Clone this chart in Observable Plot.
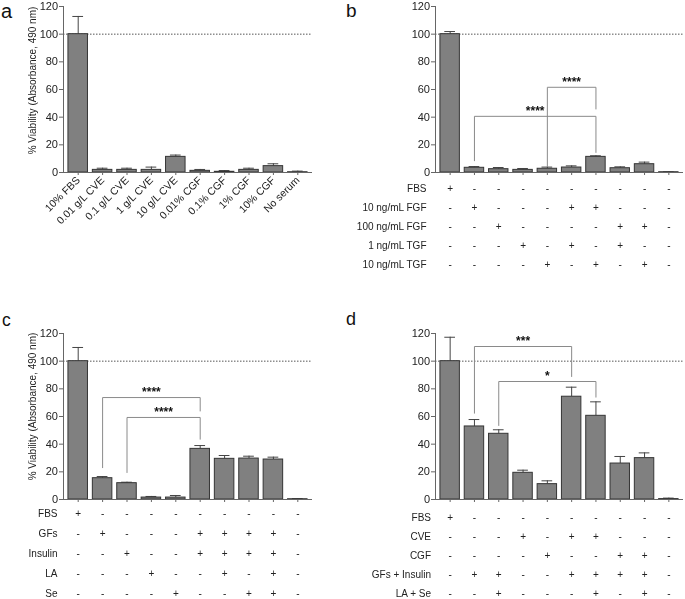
<!DOCTYPE html>
<html>
<head>
<meta charset="utf-8">
<script src="https://cdn.jsdelivr.net/npm/d3@7"></script>
<script src="https://cdn.jsdelivr.net/npm/@observablehq/plot@0.6"></script>
<style>
  body { margin: 0; background: #fff; }
  #root { position: relative; width: 685px; height: 599px; font-family: "Liberation Sans", Arial, sans-serif; color: #222; overflow: hidden; }
  #root svg { position: absolute; will-change: transform; }
  .letter { position: absolute; line-height: 1; font-family: "Liberation Sans", Arial, sans-serif; color: #111; }
</style>
</head>
<body>
<div id="root">
  <div class="letter" style="left:1px;top:1px;font-size:20px">a</div>
  <div class="letter" style="left:346px;top:1px;font-size:19px">b</div>
  <div class="letter" style="left:2px;top:312px;font-size:17.5px">c</div>
  <div class="letter" style="left:346px;top:310px;font-size:18px">d</div>
</div>
<script>
// ---------- data ----------
const yTicks = [0, 20, 40, 60, 80, 100, 120];
const yLabel = "% Viability (Absorbance, 490 nm)";
const refLine = [100];

const aLabels = ["10% FBS", "0.01 g/L CVE", "0.1 g/L CVE", "1 g/L CVE", "10 g/L CVE",
                 "0.01% CGF", "0.1% CGF", "1% CGF", "10% CGF", "No serum"];
const aValues = [100, 1.9, 1.9, 1.9, 11.3, 1.2, 0.5, 1.9, 4.6, 0.2];
const aErrors = [12.8, 1.2, 1.2, 2.0, 1.3, 1.0, 0.9, 1.2, 1.7, 0.8];

const bValues = [100, 3.4, 2.4, 1.9, 2.7, 3.6, 11.3, 3.1, 6.0, 0.2];
const bErrors = [1.9, 0.9, 1.2, 1.0, 1.2, 1.2, 0.8, 1.0, 1.5, 0.3];
const bRows = ["FBS", "10 ng/mL FGF", "100 ng/mL FGF", "1 ng/mL TGF", "10 ng/mL TGF"];
const bSigns = ["+---------", "-+---++---", "--+----++-", "---+-+-+--", "----+-+-+-"];
const bBrackets = [
  {from: 4, to: 6, h: 61.6, left: 4.5, right: 45.9, label: "****"},
  {from: 1, to: 6, h: 40.6, left: 8.5, right: 14.5, label: "****"}
];

const cValues = [100, 15.4, 11.8, 1.4, 1.4, 36.6, 29.4, 29.6, 28.9, 0.2];
const cErrors = [9.9, 1.2, 0.7, 0.8, 1.5, 2.4, 2.4, 1.7, 1.7, 0.5];
const cRows = ["FBS", "GFs", "Insulin", "LA", "Se"];
const cSigns = ["+---------", "-+---++++-", "--+--++++-", "---+--+-+-", "----+--++-"];
const cBrackets = [
  {from: 1, to: 5, h: 73.7, left: 23, right: 64, label: "****"},
  {from: 2, to: 5, h: 59.3, left: 19.5, right: 43.6, label: "****"}
];

const dValues = [100, 52.8, 47.5, 19.3, 11.1, 74.3, 60.5, 26.0, 29.9, 0.3];
const dErrors = [17.3, 5.0, 2.9, 1.9, 2.4, 6.9, 10.1, 5.1, 3.8, 0.7];
const dRows = ["FBS", "CVE", "CGF", "GFs + Insulin", "LA + Se"];
const dSigns = ["+---------", "---+-++---", "----+--++-", "-++--++++-", "--+---+-+-"];
const dBrackets = [
  {from: 1, to: 5, h: 110.6, left: 62.4, right: 88.9, label: "***"},
  {from: 2, to: 6, h: 85.3, left: 53.5, right: 74, label: "*"}
];

// ---------- drawing ----------
const root = document.getElementById("root");
const FONT = "'Liberation Sans', Arial, sans-serif";
const BAR_FILL = "#808080", BAR_STROKE = "#353535", AXIS = "#666", ERR = "#444", BRACKET = "#8a8a8a";
const idx = d3.range(10);
const xDomain = [-0.5, 9.5];

function place(svg, left, top) {
  svg.style.left = left + "px";
  svg.style.top = top + "px";
  root.appendChild(svg);
}

function barPanel(o) {
  const rows = o.values.map((v, i) => ({i, v, e: v + o.errors[i]}));
  const segs = [];
  (o.brackets || []).forEach((b, k) => {
    segs.push({k, x: b.from, y: b.left}, {k, x: b.from, y: b.h}, {k, x: b.to, y: b.h}, {k, x: b.to, y: b.right});
  });
  const marks = [
    Plot.ruleY(refLine, {stroke: "#555", strokeDasharray: "1.5,1.5", strokeWidth: 1}),
    Plot.ruleX(rows, {x: "i", y1: "v", y2: "e", stroke: ERR}),
    Plot.ruleY(rows, {y: "e", x1: d => d.i - 0.22, x2: d => d.i + 0.22, stroke: ERR}),
    Plot.rectY(rows, {x1: d => d.i - 0.4, x2: d => d.i + 0.4, y1: 0, y2: "v", fill: BAR_FILL, stroke: BAR_STROKE, strokeWidth: 1}),
    Plot.line(segs, {x: "x", y: "y", z: "k", stroke: BRACKET, strokeWidth: 1}),
    Plot.text(o.brackets || [], {x: d => (d.from + d.to) / 2, y: "h", text: "label", dy: -5, fontSize: 12, fontWeight: "bold", fill: "#111"}),
    Plot.ruleY([0], {stroke: AXIS}),
    Plot.frame({anchor: "left", stroke: AXIS}),
    Plot.axisY({ticks: yTicks, tickSize: 4, tickPadding: 1.5, fontSize: 11, stroke: AXIS, fill: "#222", label: null}),
    o.xLabels
      ? Plot.axisX({ticks: idx, tickFormat: i => o.xLabels[i], tickSize: 3, tickPadding: 3, tickRotate: -45, textAnchor: "end", fontSize: 10.5, stroke: AXIS, fill: "#222", label: null})
      : Plot.axisX({ticks: idx, tickFormat: () => "", tickSize: 3, stroke: AXIS, label: null})
  ];
  if (o.yLabel) {
    marks.push(Plot.text([o.yLabel], {text: d => d, frameAnchor: "left", textAnchor: "middle", rotate: -90, dx: -31, dy: o.yLabelDy, fontSize: 10, fill: "#222"}));
  }
  const svg = Plot.plot({
    width: o.width, height: o.height,
    marginLeft: o.mL, marginRight: o.mR, marginTop: o.mT, marginBottom: o.mB,
    x: {type: "linear", domain: xDomain, insetLeft: 2.5, insetRight: 2.5},
    y: {domain: [0, 120]},
    style: {fontFamily: FONT, background: "none", overflow: "visible", color: "#222"},
    marks
  });
  place(svg, o.left, o.top);
}

function tablePanel(o) {
  const cells = [];
  o.rows.forEach((r, k) => {
    o.signs[k].split("").forEach((s, i) => cells.push({row: r, col: i, s}));
  });
  const svg = Plot.plot({
    width: o.width, height: o.height,
    marginLeft: o.mL, marginRight: o.mR, marginTop: o.mT, marginBottom: o.mB,
    x: {type: "linear", domain: xDomain, insetLeft: 2.5, insetRight: 2.5, axis: null},
    y: {type: "point", domain: o.rows, padding: 0},
    style: {fontFamily: FONT, background: "none", overflow: "visible", color: "#222"},
    marks: [
      Plot.axisY({tickSize: 0, tickPadding: o.pad, fontSize: 10, fill: "#222", label: null}),
      Plot.text(cells, {x: "col", y: "row", text: "s", fontSize: 10, fill: "#222"})
    ]
  });
  place(svg, o.left, o.top);
}

barPanel({left: 0, top: 0, width: 340, height: 300, mL: 63, mR: 28, mT: 6, mB: 128,
          values: aValues, errors: aErrors, xLabels: aLabels, yLabel, yLabelDy: -9});
barPanel({left: 340, top: 0, width: 345, height: 180, mL: 95, mR: 2, mT: 6, mB: 8,
          values: bValues, errors: bErrors, brackets: bBrackets});
tablePanel({left: 340, top: 175, width: 345, height: 100, mL: 95, mR: 2, mT: 12.7, mB: 10,
            rows: bRows, signs: bSigns, pad: 9});
barPanel({left: 0, top: 300, width: 340, height: 205, mL: 63, mR: 28, mT: 33, mB: 6,
          values: cValues, errors: cErrors, brackets: cBrackets, yLabel, yLabelDy: -10});
tablePanel({left: 0, top: 505, width: 340, height: 94, mL: 63, mR: 28, mT: 8, mB: 6,
            rows: cRows, signs: cSigns, pad: 6});
barPanel({left: 340, top: 300, width: 345, height: 205, mL: 95, mR: 2, mT: 33, mB: 6,
          values: dValues, errors: dErrors, brackets: dBrackets});
tablePanel({left: 340, top: 505, width: 345, height: 94, mL: 95, mR: 2, mT: 11.7, mB: 4.7,
            rows: dRows, signs: dSigns, pad: 4.5});
</script>
</body>
</html>
